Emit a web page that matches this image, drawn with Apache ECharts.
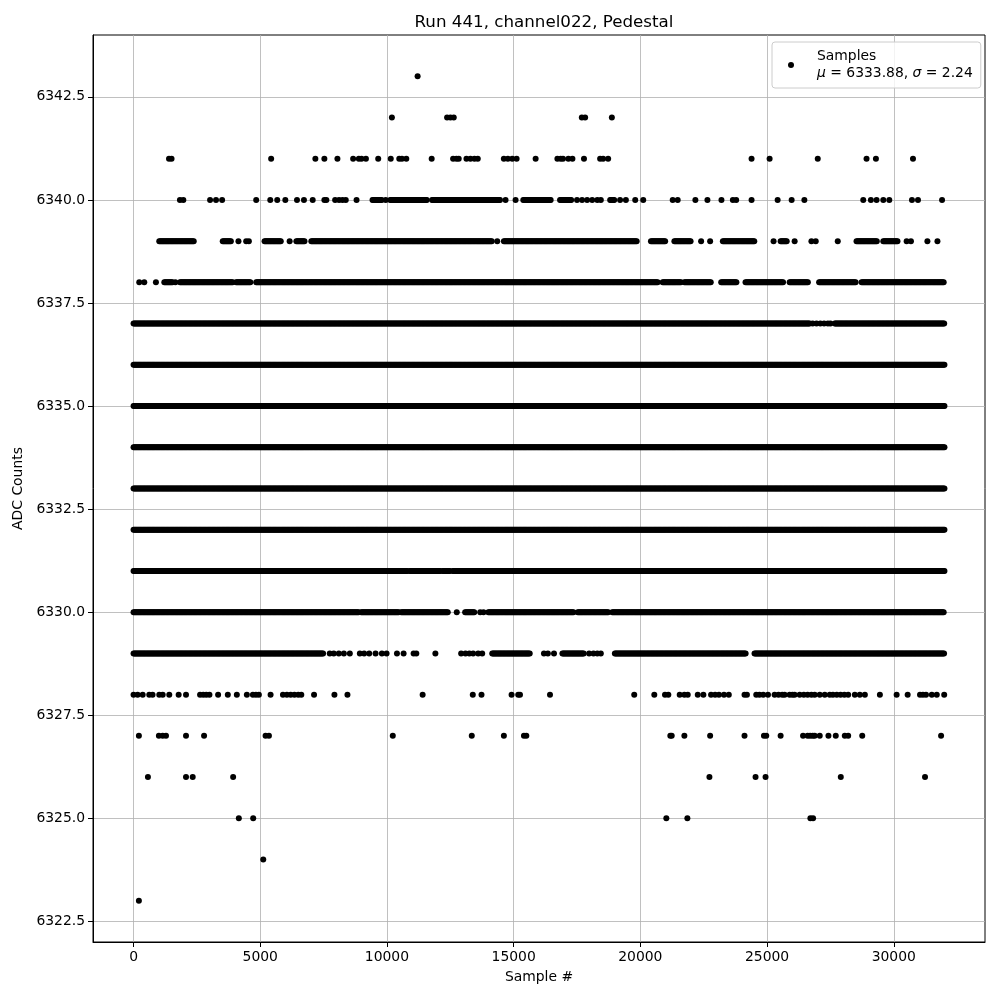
<!DOCTYPE html>
<html>
<head>
<meta charset="utf-8">
<script src="https://cdn.jsdelivr.net/npm/echarts@6/dist/echarts.min.js"></script>
<style>html,body{margin:0;padding:0;background:#fff}#c{width:1000px;height:1000px}</style>
</head>
<body>
<div id="c"></div>
<script>
// Tick labels
const xTicks = [0, 5000, 10000, 15000, 20000, 25000, 30000];
const yTicks = [6322.5, 6325, 6327.5, 6330, 6332.5, 6335, 6337.5, 6340, 6342.5];

// Per-level sample positions.
// A number = an isolated sample; [a, b] = a run of samples that forms a solid band.
const lvl6343 = [11210];
const lvl6342 = [10195, 12373, 12504, 12636, 17690, 17820, 18875];
const lvl6341 = [1400, 1500, 5430, 7175, 7530, 8045, 8666, 8890, 8995, 9170, 9655, 10150, 10486, 10592, 10763, 11765,
  12610, 12741, 12832, 13137, 13295, 13453, 13584, 14613, 14771, 14945, 15116, 15867, 16726, 16857, 16948, 17160, 17319,
  17775, 18412, 18531, 18729, 24388, 25100, 27000, 28925, 29295, 30758];
const lvl6340 = [1830, 1965, 3020, 3255, 3495, 4840, 5395, 5670, 5990, 6450, 6725, 7070, 7530, 7610, 7955, 8110, 8245,
  8375, 8800, [9430, 9800], 9950, [10130, 11580], [11780, 14480], 14680, 15076, [15380, 16460], [16830, 17300], 17500, 17700,
  17900, 18100, 18300, 18440, [18808, 19000], 19200, 19429, 19797, 20113, 21276, 21474, 22171, 22646, 23200, 23650,
  23781, 24388, 25417, 25970, 26472, 28795, 29097, 29322, 29586, 29823, 30718, 30955, 31905];
const lvl6339 = [[1015, 2400], [3520, 3850], 4140, 4445, 4550, [5170, 5830], 6160, [6425, 6755], [7015, 14154], 14352,
  [14614, 19890], [20418, 21012], [21342, 22000], 22397, 22753, [23255, 24505], 25257, [25535, 25800], 26088, 26750,
  26920, 27790, [28530, 29360], [29586, 30180], 30508, 30678, 31327, 31723];
const lvl6338 = [225, 423, 883, [1214, 1543], 1650, [1833, 3918], [4048, 4642], [4840, 20680], [20880, 21600],
  [21737, 22800], [23190, 23822], [24150, 25630], [25890, 26620], [27054, 28530], [28730, 32000]];
const lvl6337 = [[0, 26700], 26800, 26950, 27100, 27250, 27400, 27500, [27670, 32000]];
const lvl6336 = [[0, 32000]];
const lvl6335 = [[0, 32000]];
const lvl6334 = [[0, 32000]];
const lvl6333 = [[0, 32000]];
const lvl6332 = [[0, 32000]];
const lvl6331 = [[0, 10800], [10900, 12100], [12200, 12500], [12600, 32000]];
const lvl6330 = [[0, 8880], [8980, 10470], [10560, 12420], 12755, [13085, 13480], 13680, 13810, [14000, 17370],
  [17530, 18760], [18890, 32000]];
const lvl6329 = [[0, 7480], 7743, 7900, 8100, 8300, 8535, 8930, 9100, 9300, 9550, 9800, 9985, 10395, 10657, 11053,
  11158, 11911, 12928, 13100, 13250, 13400, 13600, 13758, [14154, 15670], 16196, 16350, 16592, [16924, 17780], 17978,
  18150, 18300, 18440, [18994, 24176], [24505, 32000]];
const lvl6328 = [0, 160, 360, 620, 750, 1015, 1150, 1410, 1780, 2070, 2625, 2750, 2870, 2995, 3337, 3720, 4076, 4471,
  4710, 4830, 4945, 5408, 5896, 6050, 6200, 6350, 6500, 6620, 7123, 7927, 8441, 11408, 13387, 13731, 14918, 15180,
  15250, 16434, 19758, 20550, 20972, 21104, 21553, 21737, 21869, 22265, 22487, 22790, 22950, 23100, 23300, 23490,
  24110, 24205, 24573, 24700, 24850, 25036, 25297, 25450, 25600, 25693, 25890, 26000, 26088, 26286, 26450, 26600,
  26750, 26880, 27078, 27276, 27474, 27600, 27750, 27900, 28050, 28200, 28463, 28661, 28859, 29452, 30113, 30548,
  31035, 31150, 31272, 31500, 31697, 31990];
const lvl6327 = [211, 1000, 1150, 1280, 2070, 2783, 5210, 5342, 10230, 13347, 14614, 15406, 15500, 21183, 21237, 21737,
  22753, 24110, 24877, 24968, 25535, 26420, 26600, 26700, 26800, 26880, 27078, 27422, 27711, 28067, 28200, 28755, 31867];
const lvl6326 = [567, 2070, 2335, 3930, 22725, 24545, 24940, 27909, 31233];
const lvl6325 = [4155, 4722, 21025, 21855, 26710, 26816];
const lvl6324 = [5118];
const lvl6323 = [211];

const levelList = [
  [6343, lvl6343], [6342, lvl6342], [6341, lvl6341], [6340, lvl6340], [6339, lvl6339], [6338, lvl6338],
  [6337, lvl6337], [6336, lvl6336], [6335, lvl6335], [6334, lvl6334], [6333, lvl6333], [6332, lvl6332],
  [6331, lvl6331], [6330, lvl6330], [6329, lvl6329], [6328, lvl6328], [6327, lvl6327], [6326, lvl6326],
  [6325, lvl6325], [6324, lvl6324], [6323, lvl6323]
];

const RUN_STEP = 40; // one sample drawn per ~pixel inside a solid run
const points = [];
levelList.forEach(function (lv) {
  const y = lv[0];
  lv[1].forEach(function (e) {
    if (Array.isArray(e)) {
      for (let s = e[0]; s <= e[1]; s += RUN_STEP) points.push([s, y]);
    } else {
      points.push([e, y]);
    }
  });
});

const FONT = 'DejaVu Sans';
const chart = echarts.init(document.getElementById('c'), null, { renderer: 'canvas' });
chart.setOption({
  animation: false,
  backgroundColor: '#ffffff',
  textStyle: { fontFamily: FONT },
  title: {
    text: 'Run 441, channel022, Pedestal',
    left: 539, top: 9, textAlign: 'center',
    textStyle: { fontFamily: FONT, fontSize: 16.7, fontWeight: 'normal', color: '#000' }
  },
  grid: { left: 93, right: 15, top: 35, bottom: 58, show: true, borderColor: '#000', borderWidth: 1, containLabel: false },
  legend: {
    data: ['Samples'],
    left: 772, top: 42,
    orient: 'vertical',
    padding: [6, 8, 6, 16],
    itemWidth: 6, itemHeight: 6,
    icon: 'circle',
    backgroundColor: 'rgba(255,255,255,0.8)',
    borderColor: '#cccccc', borderWidth: 1, borderRadius: 3,
    formatter: function () { return 'Samples\n{i|\u03bc} = 6333.88, {i|\u03c3} = 2.24'; },
    textStyle: {
      fontFamily: FONT, fontSize: 13.9, color: '#000', lineHeight: 17, padding: [0, 0, 0, 18],
      rich: { i: { fontStyle: 'italic', fontFamily: FONT, fontSize: 13.9, color: '#000', lineHeight: 17 } }
    }
  },
  xAxis: {
    type: 'value', min: -1600, max: 33600,
    name: 'Sample #', nameLocation: 'middle', nameGap: 28,
    nameTextStyle: { fontFamily: FONT, fontSize: 13.9, color: '#000' },
    axisLine: { show: true, onZero: false, lineStyle: { color: '#000', width: 1 } },
    axisTick: { show: true, length: 5, lineStyle: { color: '#000' }, customValues: xTicks },
    axisLabel: { customValues: xTicks, margin: 8, fontFamily: FONT, fontSize: 13.9, color: '#000',
      formatter: function (v) { return String(v); } },
    splitLine: { show: true, lineStyle: { color: '#b0b0b0', width: 0.8 } }
  },
  yAxis: {
    type: 'value', min: 6322, max: 6344,
    name: 'ADC Counts', nameLocation: 'middle', nameGap: 65,
    nameTextStyle: { fontFamily: FONT, fontSize: 13.9, color: '#000' },
    axisLine: { show: true, onZero: false, lineStyle: { color: '#000', width: 1 } },
    axisTick: { show: true, length: 5, lineStyle: { color: '#000' }, customValues: yTicks },
    axisLabel: { customValues: yTicks, margin: 8, fontFamily: FONT, fontSize: 13.9, color: '#000',
      formatter: function (v) { return Number(v).toFixed(1); } },
    splitLine: { show: true, lineStyle: { color: '#b0b0b0', width: 0.8 } }
  },
  series: [{
    name: 'Samples',
    type: 'scatter',
    symbol: 'circle',
    symbolSize: 6,
    itemStyle: { color: '#000', opacity: 1 },
    progressive: 0,
    large: false,
    silent: true,
    data: points
  }]
});
</script>
</body>
</html>
